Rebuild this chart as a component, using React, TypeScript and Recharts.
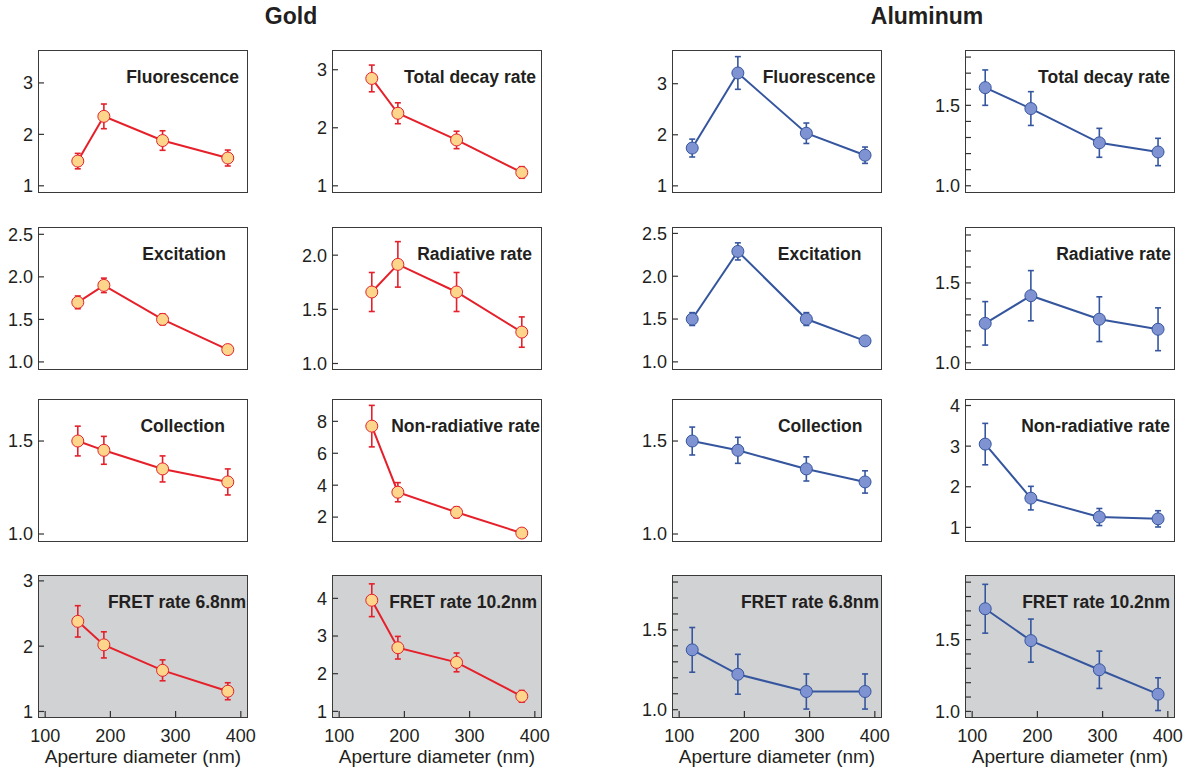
import { LineChart, Line, XAxis, YAxis, ErrorBar } from 'recharts'

const goldDiameters = [150, 190, 280, 380]
const aluminumDiameters = [120, 190, 295, 385]
const diameterTicks = [100, 200, 300, 400]

// gold enhancement factors
const goldFluorescence = [1.48, 2.35, 1.88, 1.54]
const goldFluorescenceErr = [0.15, 0.24, 0.19, 0.155]
const goldTotalDecay = [2.85, 2.25, 1.79, 1.23]
const goldTotalDecayErr = [0.23, 0.18, 0.15, 0.1]
const goldExcitation = [1.7, 1.9, 1.5, 1.145]
const goldExcitationErr = [0.075, 0.085, 0.065, 0.03]
const goldRadiative = [1.66, 1.915, 1.66, 1.29]
const goldRadiativeErr = [0.18, 0.21, 0.18, 0.14]
const goldCollection = [1.5, 1.45, 1.35, 1.28]
const goldCollectionErr = [0.08, 0.075, 0.07, 0.07]
const goldNonRadiative = [7.7, 3.56, 2.3, 1.0]
const goldNonRadiativeErr = [1.3, 0.6, 0.35, 0.15]
const goldFret68 = [2.38, 2.02, 1.63, 1.31]
const goldFret68Err = [0.24, 0.2, 0.16, 0.13]
const goldFret102 = [3.95, 2.69, 2.3, 1.4]
const goldFret102Err = [0.435, 0.3, 0.25, 0.155]

// aluminum enhancement factors
const alFluorescence = [1.74, 3.21, 2.03, 1.6]
const alFluorescenceErr = [0.175, 0.32, 0.2, 0.16]
const alTotalDecay = [1.61, 1.48, 1.267, 1.21]
const alTotalDecayErr = [0.11, 0.105, 0.09, 0.085]
const alExcitation = [1.5, 2.29, 1.5, 1.245]
const alExcitationErr = [0.075, 0.1, 0.075, 0.035]
const alRadiative = [1.247, 1.42, 1.273, 1.21]
const alRadiativeErr = [0.136, 0.157, 0.14, 0.134]
const alCollection = [1.5, 1.45, 1.35, 1.28]
const alCollectionErr = [0.075, 0.07, 0.065, 0.06]
const alNonRadiative = [3.05, 1.72, 1.255, 1.21]
const alNonRadiativeErr = [0.51, 0.29, 0.21, 0.2]
const alFret68 = [1.375, 1.222, 1.114, 1.114]
const alFret68Err = [0.14, 0.125, 0.11, 0.11]
const alFret102 = [1.715, 1.493, 1.29, 1.12]
const alFret102Err = [0.17, 0.15, 0.13, 0.114]

// y tick values
const ticksInt3 = [1, 2, 3]
const ticksInt4 = [1, 2, 3, 4]
const ticksEven8 = [2, 4, 6, 8]
const ticksHalf25 = [1.0, 1.5, 2.0, 2.5]
const ticksHalf20 = [1.0, 1.5, 2.0]
const ticksHalf15 = [1.0, 1.5]
const ticksFine18 = [1.0, 1.1, 1.2, 1.3, 1.4, 1.5, 1.6, 1.7, 1.8]
const ticksFine19 = [1.0, 1.1, 1.2, 1.3, 1.4, 1.5, 1.6, 1.7, 1.8, 1.9]

const FONT = '"Liberation Sans", Arial, Helvetica, sans-serif'
const INK = '#231F20'
const BOX_W = 210
const BOX_H = 143
const YW = 44
const MT = 5
const MR = 24
const XH = 52

const COLS = [38, 332, 671.5, 965]
const ROWS = [50, 226.5, 399, 574.5]

const GOLD = { line: '#E5202A', fill: '#FDD68C' }
const ALU = { line: '#35569F', fill: '#7F92D2' }

type PanelProps = {
  col: number
  row: number
  title: string
  pad: number
  xs: number[]
  ys: number[]
  errs: number[]
  domain: [number, number]
  ticks: number[]
  labeled?: number[]
  digits: number
  gold: boolean
}

function Panel({ col, row, title, pad, xs, ys, errs, domain, ticks, labeled, digits, gold }: PanelProps) {
  const left = COLS[col]
  const top = ROWS[row]
  const bottom = row === 3
  const shaded = row === 3
  const c = gold ? GOLD : ALU
  const data = xs.map((x, i) => ({ x, y: ys[i], err: errs[i] }))
  const fmt = (v: number) => {
    if (labeled && !labeled.some(l => Math.abs(l - v) < 1e-6)) return ''
    return v.toFixed(digits)
  }
  return (
    <>
      <div
        style={{
          position: 'absolute',
          left,
          top,
          width: BOX_W,
          height: BOX_H,
          boxSizing: 'border-box',
          border: '1.5px solid #3a3a3a',
          background: shaded ? '#D1D2D4' : 'transparent'
        }}
      />
      <div
        style={{
          position: 'absolute',
          left,
          top: top + 17,
          width: BOX_W - pad,
          textAlign: 'right',
          fontSize: 17.5,
          lineHeight: '20px',
          fontWeight: 'bold',
          color: INK,
          whiteSpace: 'nowrap'
        }}
      >
        {title}
      </div>
      <div style={{ position: 'absolute', left: left - YW, top: top - MT }}>
        <LineChart
          width={YW + BOX_W + MR}
          height={MT + BOX_H + XH}
          data={data}
          margin={{ top: MT, right: MR, left: 0, bottom: 0 }}
        >
          <XAxis
            dataKey="x"
            type="number"
            domain={[89, 411]}
            ticks={diameterTicks}
            allowDataOverflow
            interval={0}
            height={XH}
            axisLine={false}
            tickSize={-7}
            tickMargin={18}
            tickLine={{ stroke: '#333', strokeWidth: 1.2 }}
            tick={bottom ? { fill: INK, fontSize: 18 } : false}
            label={
              bottom
                ? { value: 'Aperture diameter (nm)', position: 'insideBottom', offset: 7, fill: INK, fontSize: 19 }
                : undefined
            }
          />
          <YAxis
            type="number"
            domain={domain}
            ticks={ticks}
            allowDataOverflow
            interval={0}
            width={YW}
            axisLine={false}
            tickSize={-6}
            tickMargin={11}
            tickLine={{ stroke: '#333', strokeWidth: 1.2 }}
            tick={{ fill: INK, fontSize: 18 }}
            tickFormatter={fmt}
          />
          <Line
            dataKey="y"
            stroke={c.line}
            strokeWidth={2}
            dot={{ r: 6, fill: c.fill, stroke: c.line, strokeWidth: 1 }}
            activeDot={false}
            isAnimationActive={false}
          >
            <ErrorBar dataKey="err" width={3} stroke={c.line} strokeWidth={1.6} isAnimationActive={false} />
          </Line>
        </LineChart>
      </div>
    </>
  )
}

export default function App() {
  return (
    <div
      style={{
        position: 'absolute',
        left: 0,
        top: 0,
        width: 1193,
        height: 769,
        background: '#fff',
        fontFamily: FONT,
        overflow: 'hidden'
      }}
    >
      <div style={{ position: 'absolute', left: 191, width: 200, top: 3, textAlign: 'center', fontSize: 23, fontWeight: 'bold', color: INK }}>
        Gold
      </div>
      <div style={{ position: 'absolute', left: 827, width: 200, top: 3, textAlign: 'center', fontSize: 23, fontWeight: 'bold', color: INK }}>
        Aluminum
      </div>

      <Panel col={0} row={0} title="Fluorescence" pad={9} xs={goldDiameters} ys={goldFluorescence} errs={goldFluorescenceErr} domain={[0.86, 3.64]} ticks={ticksInt3} digits={0} gold />
      <Panel col={0} row={1} title="Excitation" pad={22} xs={goldDiameters} ys={goldExcitation} errs={goldExcitationErr} domain={[0.905, 2.586]} ticks={ticksHalf25} digits={1} gold />
      <Panel col={0} row={2} title="Collection" pad={23} xs={goldDiameters} ys={goldCollection} errs={goldCollectionErr} domain={[0.957, 1.726]} ticks={ticksHalf15} digits={1} gold />
      <Panel col={0} row={3} title="FRET rate 6.8nm" pad={2} xs={goldDiameters} ys={goldFret68} errs={goldFret68Err} domain={[0.9, 3.09]} ticks={ticksInt3} digits={0} gold />

      <Panel col={1} row={0} title="Total decay rate" pad={6} xs={goldDiameters} ys={goldTotalDecay} errs={goldTotalDecayErr} domain={[0.876, 3.34]} ticks={ticksInt3} digits={0} gold />
      <Panel col={1} row={1} title="Radiative rate" pad={10} xs={goldDiameters} ys={goldRadiative} errs={goldRadiativeErr} domain={[0.94, 2.26]} ticks={ticksHalf20} digits={1} gold />
      <Panel col={1} row={2} title="Non-radiative rate" pad={2} xs={goldDiameters} ys={goldNonRadiative} errs={goldNonRadiativeErr} domain={[0.44, 9.4]} ticks={ticksEven8} digits={0} gold />
      <Panel col={1} row={3} title="FRET rate 10.2nm" pad={5} xs={goldDiameters} ys={goldFret102} errs={goldFret102Err} domain={[0.824, 4.62]} ticks={ticksInt4} digits={0} gold />

      <Panel col={2} row={0} title="Fluorescence" pad={6} xs={aluminumDiameters} ys={alFluorescence} errs={alFluorescenceErr} domain={[0.86, 3.66]} ticks={ticksInt3} digits={0} gold={false} />
      <Panel col={2} row={1} title="Excitation" pad={20} xs={aluminumDiameters} ys={alExcitation} errs={alExcitationErr} domain={[0.905, 2.575]} ticks={ticksHalf25} digits={1} gold={false} />
      <Panel col={2} row={2} title="Collection" pad={19} xs={aluminumDiameters} ys={alCollection} errs={alCollectionErr} domain={[0.957, 1.726]} ticks={ticksHalf15} digits={1} gold={false} />
      <Panel col={2} row={3} title="FRET rate 6.8nm" pad={2.5} xs={aluminumDiameters} ys={alFret68} errs={alFret68Err} domain={[0.948, 1.844]} ticks={ticksFine18} labeled={ticksHalf15} digits={1} gold={false} />

      <Panel col={3} row={0} title="Total decay rate" pad={5} xs={aluminumDiameters} ys={alTotalDecay} errs={alTotalDecayErr} domain={[0.955, 1.844]} ticks={ticksFine18} labeled={ticksHalf15} digits={1} gold={false} />
      <Panel col={3} row={1} title="Radiative rate" pad={4} xs={aluminumDiameters} ys={alRadiative} errs={alRadiativeErr} domain={[0.955, 1.85]} ticks={ticksFine18} labeled={ticksHalf15} digits={1} gold={false} />
      <Panel col={3} row={2} title="Non-radiative rate" pad={5} xs={aluminumDiameters} ys={alNonRadiative} errs={alNonRadiativeErr} domain={[0.64, 4.16]} ticks={ticksInt4} digits={0} gold={false} />
      <Panel col={3} row={3} title="FRET rate 10.2nm" pad={5} xs={aluminumDiameters} ys={alFret102} errs={alFret102Err} domain={[0.954, 1.95]} ticks={ticksFine19} labeled={ticksHalf15} digits={1} gold={false} />
    </div>
  )
}
